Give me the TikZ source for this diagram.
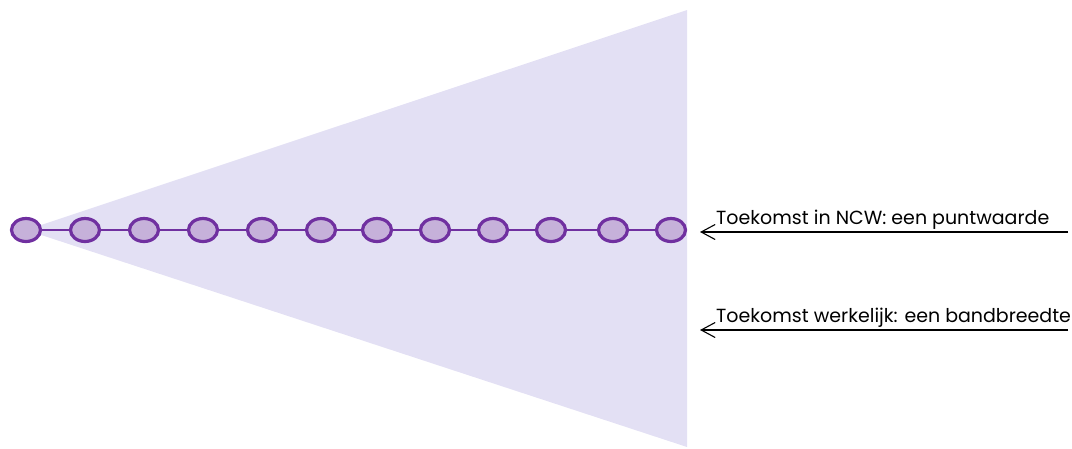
\documentclass[tikz,border=0pt]{standalone}
\usepackage{fontspec}
\setmainfont{Poppins}
\usetikzlibrary{arrows.meta,shapes.geometric}
\definecolor{conefill}{HTML}{E3E0F4}
\definecolor{dotfill}{HTML}{C6B1DA}
\definecolor{dotline}{HTML}{7030A0}
\tikzset{
  dot/.style={ellipse, draw=dotline, fill=dotfill, line width=3.2pt, minimum width=29pt, minimum height=23pt, inner sep=0pt},
  link/.style={draw=dotline, line width=1.5pt},
  pointer/.style={draw=black, line width=1.1pt, -{Straight Barb[length=14pt,width=15pt,line width=1.1pt]}},
  lbl/.style={anchor=base west, inner sep=0pt, font=\fontsize{19}{22}\selectfont}
}
\begin{document}
\begin{tikzpicture}[x=1pt,y=-1pt]
\useasboundingbox (0,0) rectangle (1072,448);
\fill[conefill] (26,230) -- (687,10) -- (687,447) -- cycle;
\foreach \i/\x in {1/26,2/85,3/144,4/203,5/262,6/321,7/377,8/435,9/493,10/551,11/613,12/671} {
  \node[dot] (d\i) at (\x,230) {};
}
\foreach \i [evaluate=\i as \j using int(\i+1)] in {1,...,11} {
  \draw[link] (d\i) -- (d\j);
}
\coordinate (a1s) at (1068,232);
\coordinate (a1e) at (700,232);
\coordinate (a2s) at (1068,330);
\coordinate (a2e) at (700,330);
\draw[pointer] (a1s) -- (a1e);
\draw[pointer] (a2s) -- (a2e);
\node[lbl] (t1) at (716,224) {Toekomst in NCW: een puntwaarde};
\node[lbl] (t2) at (716,322) {Toekomst werkelijk: een bandbreedte};
\end{tikzpicture}
\end{document}
